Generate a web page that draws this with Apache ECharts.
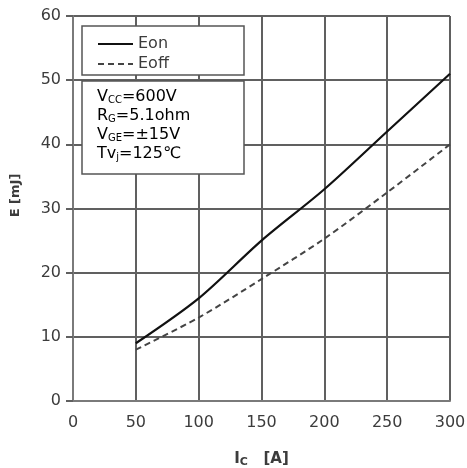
<!DOCTYPE html>
<html>
<head>
<meta charset="utf-8">
<script src="https://cdn.jsdelivr.net/npm/echarts@6/dist/echarts.min.js"></script>
<style>
  html, body { margin: 0; padding: 0; background: #fff; }
  #chart { width: 467px; height: 468px; }
</style>
</head>
<body>
<div id="chart"></div>
<script>
// Collector current Ic [A]
const currents = [50, 100, 150, 200, 250, 300];
// Switching energies [mJ]
const eon = [9, 16, 25, 33, 42, 51];
const eoff = [8, 13, 19, 25.3, 32.5, 40];

const xTicks = [0, 50, 100, 150, 200, 250, 300];
const yTicks = [0, 10, 20, 30, 40, 50, 60];

const FONT = '"DejaVu Sans", "Noto Sans", sans-serif';
const TXT = '#3c3c3c';
const GRIDC = '#606060';

const chart = echarts.init(document.getElementById('chart'), null, { renderer: 'canvas' });

const pairs = (ys) => currents.map((x, i) => [x, ys[i]]);

chart.setOption({
  animation: false,
  backgroundColor: '#ffffff',
  grid: { left: 73, right: 17, top: 16, bottom: 67, containLabel: false, outerBoundsMode: 'none' },
  xAxis: {
    type: 'value',
    min: xTicks[0], max: xTicks[xTicks.length - 1], interval: 50,
    name: '{i|I}{s|C}{i|   [A]}',
    nameLocation: 'middle',
    nameGap: 49,
    nameTextStyle: {
      rich: {
        i: { fontFamily: FONT, fontSize: 15, fontWeight: 'bold', color: TXT },
        s: { fontFamily: FONT, fontSize: 11, fontWeight: 'bold', color: TXT, padding: [7, 0, 0, 0] }
      }
    },
    axisLine: { show: true, onZero: false, lineStyle: { color: '#7a7a7a', width: 2 } },
    axisTick: { show: false },
    axisLabel: { fontFamily: FONT, fontSize: 16, color: TXT, margin: 14 },
    splitLine: { show: true, lineStyle: { color: GRIDC, width: 2 } }
  },
  yAxis: {
    type: 'value',
    min: yTicks[0], max: yTicks[yTicks.length - 1], interval: 10,
    name: 'E [mJ]',
    nameLocation: 'middle',
    nameGap: 51,
    nameRotate: 90,
    nameTextStyle: { fontFamily: FONT, fontSize: 13, fontWeight: 'bold', color: TXT, padding: [0, 0, 0, 26] },
    axisLine: { show: true, lineStyle: { color: '#7a7a7a', width: 2 } },
    axisTick: { show: true, inside: false, length: 7, lineStyle: { color: GRIDC, width: 2 } },
    axisLabel: { fontFamily: FONT, fontSize: 16, color: TXT, margin: 12 },
    splitLine: { show: true, lineStyle: { color: GRIDC, width: 2 } }
  },
  legend: {
    orient: 'vertical',
    left: 97, top: 36, z: 20,
    padding: 0,
    itemWidth: 35, itemHeight: 14, itemGap: 4,
    itemStyle: { opacity: 0 },
    textStyle: { fontFamily: FONT, fontSize: 16, color: TXT },
    data: ['Eon', 'Eoff']
  },
  graphic: [
    // legend frame
    { type: 'rect', z: 3, shape: { x: 82, y: 26, width: 162, height: 49 },
      style: { fill: '#fff', stroke: '#555', lineWidth: 1.5 } },
    // test-condition frame
    { type: 'rect', z: 3, shape: { x: 82, y: 81, width: 162, height: 93 },
      style: { fill: '#fff', stroke: '#555', lineWidth: 1.5 } },
    {
      type: 'text', z: 21, left: 97, top: 89,
      style: {
        text: '{n|V}{s|CC}{n|=600V}\n{n|R}{s|G}{n|=5.1ohm}\n{n|V}{s|GE}{n|=±15V}\n{n|Tv}{s|j}{n|=125℃}',
        rich: {
          n: { fontFamily: FONT, fontSize: 16, color: TXT, lineHeight: 19 },
          s: { fontFamily: FONT, fontSize: 10, color: TXT, padding: [6, 0, 0, 0], lineHeight: 19 }
        }
      }
    }
  ],
  series: [
    {
      name: 'Eon', type: 'line', data: pairs(eon), smooth: 0.3,
      symbol: 'none', z: 5,
      lineStyle: { color: '#111', width: 2.2, type: 'solid' },
      itemStyle: { color: '#111' }
    },
    {
      name: 'Eoff', type: 'line', data: pairs(eoff), smooth: 0.3,
      symbol: 'none', z: 5,
      lineStyle: { color: '#444', width: 2, type: [6, 4] },
      itemStyle: { color: '#444' }
    }
  ]
});
</script>
</body>
</html>
